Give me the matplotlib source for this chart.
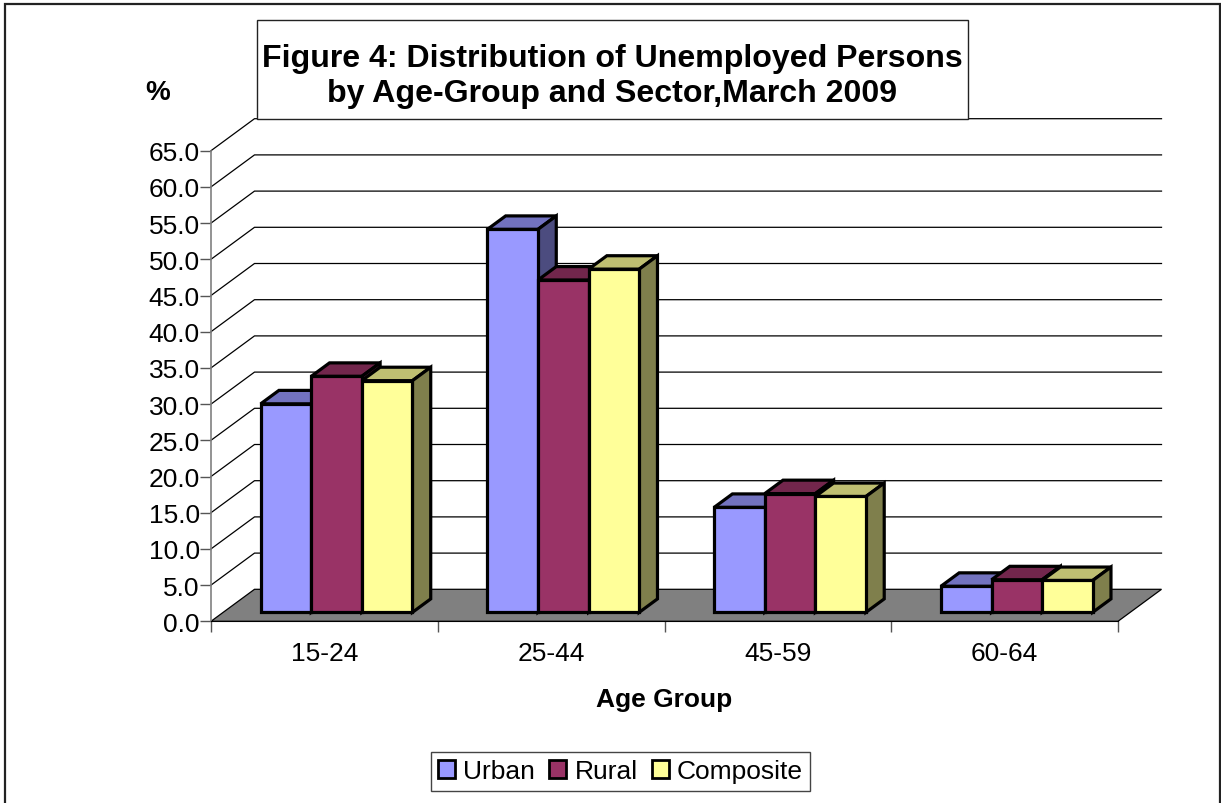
import matplotlib
matplotlib.use('Agg')
import matplotlib.pyplot as plt
from matplotlib.patches import Polygon, Patch, Rectangle

plt.rcParams['font.family'] = ['Liberation Sans', 'DejaVu Sans']

groups = ['15-24', '25-44', '45-59', '60-64']
sectors = ['Urban', 'Rural', 'Composite']
urban = [28.8, 52.9, 14.5, 3.6]
rural = [32.6, 45.9, 16.4, 4.5]
composite = [32.0, 47.4, 16.0, 4.4]
yticks = [0, 5, 10, 15, 20, 25, 30, 35, 40, 45, 50, 55, 60, 65]

front_cols = ['#9999ff', '#993366', '#ffff99']
top_cols = ['#7272bf', '#72264c', '#bfbf72']
side_cols = ['#4c4c7f', '#4c1933', '#7f7f4c']

# pixel size of the plot, the rest of the 3d look is worked out from these
W, H = 1221, 804
left, right, y0, y65 = 211, 1118, 622.3, 151.7
px_x = (right - left) / 4
px_y = (y0 - y65) / 65
dx = 43.5 / px_x  # depth of the box, category units
dy = 32 / px_y  # depth of the box, value units
bar_w = 50.6 / px_x
bar_front = 0.28  # where bars start in the depth
bar_depth = 0.42


def proj(x, v, d=0.0):
    return (x + d * dx, v + d * dy)


fig = plt.figure(figsize=(W / 100, H / 100), dpi=100)
ax = fig.add_axes([left / W, 1 - y0 / H, (right - left) / W, (y0 - y65) / H])
ax.set_xlim(0, 4)
ax.set_ylim(0, 65)
ax.patch.set_visible(False)

# outer frame, the bottom edge is cut off in the original
fig.add_artist(Rectangle((5 / W, -10 / H), 1215 / W, (H + 10 - 4.5) / H, fill=False, ec='#222222', lw=1.6,
                         transform=fig.transFigure))

# walls
for v in yticks[1:]:
    xs, ys = zip(proj(0, v), proj(0, v, 1), proj(4, v, 1))
    ax.plot(xs, ys, color='black', lw=0.9, clip_on=False, zorder=1)

# floor
floor = [proj(0, 0), proj(4, 0), proj(4, 0, 1), proj(0, 0, 1)]
ax.add_patch(Polygon(floor, closed=True, fc='#808080', ec='black', lw=0.9, clip_on=False, zorder=2))

# bars
series = [urban, rural, composite]
z = 3
for g in range(len(groups)):
    for s, vals in enumerate(series):
        v = vals[g]
        x1 = g + 0.5 - 1.5 * bar_w + s * bar_w
        x2 = x1 + bar_w
        a = bar_front
        b = bar_front + bar_depth
        top = [proj(x1, v, a), proj(x2, v, a), proj(x2, v, b), proj(x1, v, b)]
        side = [proj(x2, 0, a), proj(x2, 0, b), proj(x2, v, b), proj(x2, v, a)]
        front = [proj(x1, 0, a), proj(x2, 0, a), proj(x2, v, a), proj(x1, v, a)]
        for pts, col in ((top, top_cols[s]), (side, side_cols[s]), (front, front_cols[s])):
            ax.add_patch(Polygon(pts, closed=True, fc=col, ec='black', lw=2.3, joinstyle='miter',
                                 clip_on=False, zorder=z))
            z += 1

ax.set_xticks([0, 1, 2, 3, 4])
ax.set_xticklabels([])
ax.set_xticks([0.5, 1.5, 2.5, 3.5], labels=groups, minor=True)
ax.tick_params(axis='x', which='major', length=8, width=1, color='#555555', direction='out')
ax.tick_params(axis='x', which='minor', length=0, pad=14, labelsize=19)
ax.set_yticks(yticks)
ax.set_yticklabels(['%.1f' % v for v in yticks])
ax.tick_params(axis='y', length=8, width=1, color='#555555', pad=0, labelsize=19)
for k in ('top', 'right'):
    ax.spines[k].set_visible(False)
ax.spines['left'].set_color('#808080')
ax.spines['left'].set_linewidth(1.2)
ax.spines['bottom'].set_color('black')
ax.spines['bottom'].set_zorder(2.5)

ax.set_xlabel('Age Group', fontsize=19, fontweight='bold', labelpad=16)

# title box sits on top of the back wall
fig.add_artist(Rectangle((257 / W, 1 - 119.5 / H), 711 / W, 99 / H, fc='white', ec='#222222', lw=1,
                         transform=fig.transFigure))
fig.text(612 / W, 1 - 76.5 / H, 'Figure 4: Distribution of Unemployed Persons\nby Age-Group and Sector,March 2009',
         ha='center', va='center', fontsize=23.1, fontweight='bold', linespacing=1.24)
fig.text(158 / W, 1 - 93 / H, '%', ha='center', va='center', fontsize=20, fontweight='bold')

handles = [Patch(fc=c, ec='black', lw=2) for c in front_cols]
fig.legend(handles, sectors, loc='center', bbox_to_anchor=(620.5 / W, 1 - 772.5 / H), ncol=3,
           fontsize=19, frameon=True, fancybox=False, framealpha=1, edgecolor='#444444',
           handlelength=0.65, handleheight=0.65, handletextpad=0.3, columnspacing=0.55,
           borderpad=0.27, borderaxespad=0)

fig.savefig('out.png', dpi=100)
